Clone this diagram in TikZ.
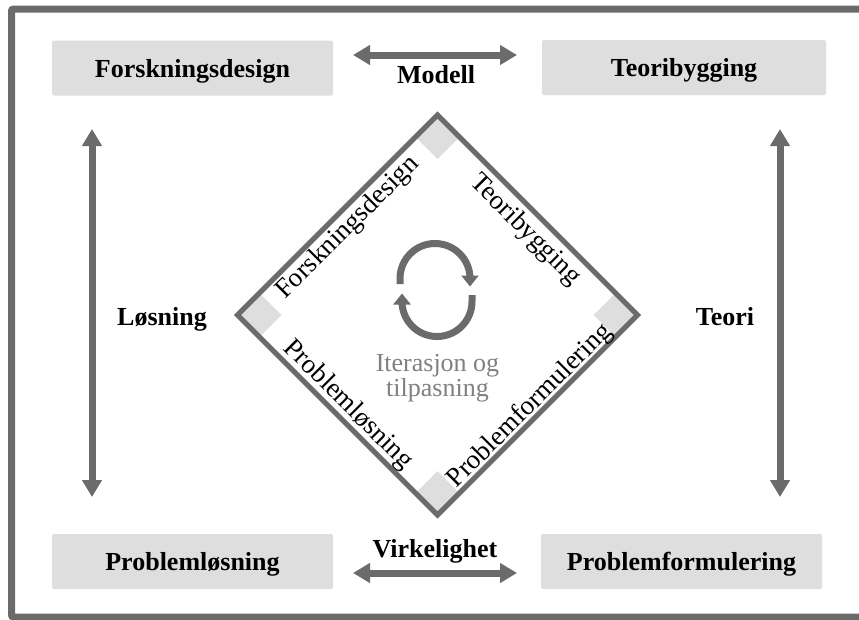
\documentclass[tikz,border=0pt]{standalone}
\usepackage{fontspec}
\setmainfont{Liberation Serif}
\usetikzlibrary{arrows.meta}
\definecolor{mork}{RGB}{107,107,107}
\definecolor{lys}{RGB}{222,222,222}
\definecolor{tekstgraa}{RGB}{128,128,128}

\begin{document}
\begin{tikzpicture}[x=1pt,y=-1pt]
\tikzset{boks/.style={fill=lys, rounded corners=2pt, minimum width=281pt, minimum height=55pt, text depth=0pt, font=\fontsize{26}{30}\selectfont\bfseries}}
\tikzset{pil/.style={draw=mork, line width=7pt, {Triangle[length=17pt,width=19pt]}-{Triangle[length=17pt,width=19pt]}}}
\tikzset{merkelapp/.style={anchor=base, font=\fontsize{26}{30}\selectfont\bfseries}}
\tikzset{sidetekst/.style={font=\fontsize{27}{30}\selectfont, inner sep=0pt}}
\tikzset{hjorne/.style={fill=lys}}
\tikzset{syklus/.style={draw=mork, line width=7pt, -{Triangle[length=11pt,width=17pt]}}}
\useasboundingbox (0,0) rectangle (859,619);
\draw[mork, line width=7pt, rounded corners=2pt] (11.5,9) rectangle (868,617);
\node[boks] (FD) at (192.5,68) {Forskningsdesign};
\node[boks, minimum width=284pt] (TB) at (684,67.5) {Teoribygging};
\node[boks] (PL) at (192.5,561.5) {Problemløsning};
\node[boks] (PF) at (681.5,561.5) {Problemformulering};
\coordinate (M1) at (353,55);
\coordinate (M2) at (517,55);
\coordinate (V1) at (353,573);
\coordinate (V2) at (517,573);
\coordinate (L1) at (92,129);
\coordinate (L2) at (92,497);
\coordinate (T1) at (780,129);
\coordinate (T2) at (780,497);
\draw[pil] (M1) -- (M2);
\draw[pil] (V1) -- (V2);
\draw[pil] (L1) -- (L2);
\draw[pil] (T1) -- (T2);
\node[merkelapp] (modell) at (436,83) {Modell};
\node[merkelapp] (virk) at (435,557) {Virkelighet};
\node[merkelapp] (losn) at (162,325) {Løsning};
\node[merkelapp] (teori) at (725,325) {Teori};
\coordinate (DT) at (437.5,115);
\coordinate (DR) at (637.5,315);
\coordinate (DB) at (437.5,515);
\coordinate (DL) at (237.5,315);
\fill[hjorne] (DT) -- ++(22,22) -- ++(-22,22) -- ++(-22,-22) -- cycle;
\fill[hjorne] (DL) -- ++(22,-22) -- ++(22,22) -- ++(-22,22) -- cycle;
\fill[hjorne] (DR) -- ++(-22,-22) -- ++(-22,22) -- ++(22,22) -- cycle;
\fill[hjorne] (DB) -- ++(22,-22) -- ++(-22,-22) -- ++(-22,22) -- cycle;
\draw[mork, line width=5pt] (DT) -- (DR) -- (DB) -- (DL) -- cycle;
\node[sidetekst, rotate=45] (S1) at (348,228) {Forskningsdesign};
\node[sidetekst, rotate=-45] (S2) at (525,230) {Teoribygging};
\node[sidetekst, rotate=-45] (S3) at (348,405) {Problemløsning};
\node[sidetekst, rotate=45] (S4) at (530,406) {Problemformulering};
\node[font=\fontsize{26}{25}\selectfont, text=tekstgraa, align=center, anchor=north, inner sep=0pt] (iter) at (437.5,354) {Iterasjon og\\tilpasning};
\draw[syklus] (400,284) -- (400,278.5) arc (180:360:35) -- ++(0,8);
\draw[syklus] (472,295) -- (472,301.5) arc (0:180:35) -- ++(0,-8);
\end{tikzpicture}
\end{document}
